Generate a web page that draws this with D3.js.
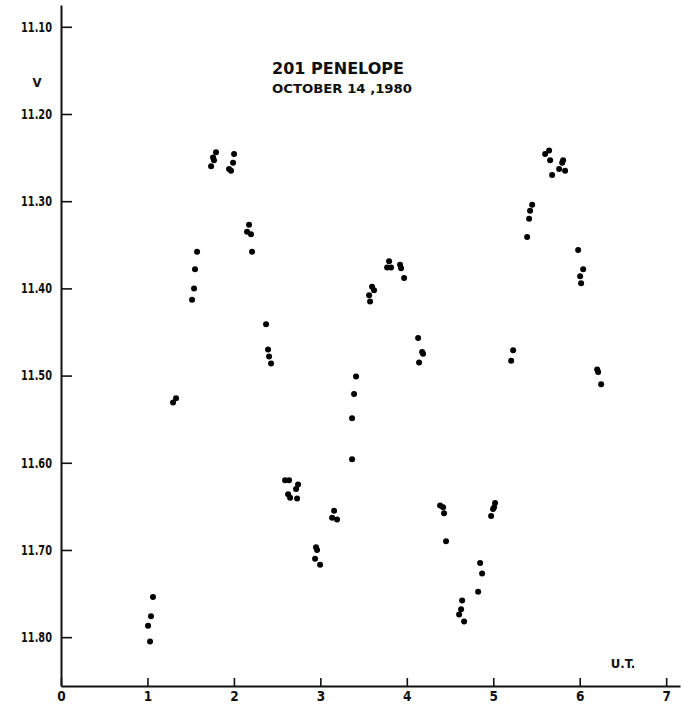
<!DOCTYPE html>
<html>
<head>
<meta charset="utf-8">
<script src="https://cdn.jsdelivr.net/npm/d3@7"></script>
<style>
  html, body { margin: 0; padding: 0; background: #fff; }
  svg { display: block; }
  text { font-family: "DejaVu Sans Condensed", "DejaVu Sans", sans-serif; fill: #111; }
</style>
</head>
<body>
<svg id="chart" width="682" height="713"></svg>
<script>
// Universal time (hours) of each observation
const ut = [
  1.030, 1.007, 1.041, 1.064,
  1.296, 1.331,
  1.516, 1.539, 1.550, 1.574,
  1.736, 1.759, 1.770, 1.793,
  1.944, 1.967, 1.990, 2.002,
  2.175, 2.152, 2.198, 2.210,
  2.372, 2.395, 2.407, 2.430,
  2.592, 2.638, 2.627, 2.650, 2.742, 2.719, 2.731,
  2.950, 2.962, 2.939, 2.997,
  3.159, 3.136, 3.193,
  3.413, 3.390, 3.367, 3.367,
  3.598, 3.621, 3.564, 3.575,
  3.795, 3.772, 3.818, 3.922, 3.934, 3.969,
  4.131, 4.177, 4.188, 4.142,
  4.385, 4.420, 4.431, 4.454,
  4.640, 4.628, 4.605, 4.663,
  4.848, 4.871, 4.825,
  5.021, 5.010, 4.998, 4.975,
  5.230, 5.207,
  5.450, 5.426, 5.415, 5.392,
  5.600, 5.646, 5.658, 5.681, 5.797, 5.808, 5.762, 5.831,
  5.982, 6.040, 6.005, 6.016,
  6.202, 6.213, 6.248
];
// V magnitude of each observation
const vmag = [
  11.805, 11.787, 11.776, 11.754,
  11.531, 11.526,
  11.413, 11.400, 11.378, 11.358,
  11.260, 11.250, 11.253, 11.244,
  11.263, 11.265, 11.256, 11.246,
  11.327, 11.335, 11.338, 11.358,
  11.441, 11.470, 11.478, 11.486,
  11.620, 11.620, 11.636, 11.640, 11.625, 11.630, 11.641,
  11.697, 11.700, 11.710, 11.717,
  11.655, 11.663, 11.665,
  11.501, 11.521, 11.549, 11.596,
  11.398, 11.402, 11.408, 11.415,
  11.369, 11.376, 11.376, 11.373, 11.377, 11.388,
  11.457, 11.473, 11.475, 11.485,
  11.649, 11.651, 11.658, 11.690,
  11.758, 11.768, 11.774, 11.782,
  11.715, 11.727, 11.748,
  11.646, 11.651, 11.653, 11.661,
  11.471, 11.483,
  11.304, 11.311, 11.320, 11.341,
  11.246, 11.242, 11.253, 11.270, 11.256, 11.253, 11.263, 11.265,
  11.356, 11.378, 11.386, 11.394,
  11.493, 11.496, 11.510
];
const yTicks = [11.10, 11.20, 11.30, 11.40, 11.50, 11.60, 11.70, 11.80];
const xTicks = [0, 1, 2, 3, 4, 5, 6, 7];
const titleLines = ["201 PENELOPE", "OCTOBER 14 ,1980"];
const yLabel = "V";
const xLabel = "U.T.";

const svg = d3.select("#chart");

const x = d3.scaleLinear().domain([0, 7.16]).range([61, 680]);
const y = d3.scaleLinear().domain([11.075, 11.856]).range([5, 686]);

// Y axis (ticks pointing inward)
const yAxis = d3.axisLeft(y)
  .tickValues(yTicks)
  .tickFormat(d3.format(".2f"))
  .tickSizeInner(-11)
  .tickSizeOuter(0)
  .tickPadding(9);
const gy = svg.append("g").attr("transform", `translate(${x(0)},0)`).call(yAxis);
gy.select(".domain").attr("stroke", "#111").attr("stroke-width", 2);
gy.selectAll(".tick line").attr("stroke", "#111").attr("stroke-width", 1.6);
gy.selectAll(".tick text").attr("font-size", 13.5).attr("font-weight", "bold")
  .attr("font-family", "\"DejaVu Sans Condensed\", sans-serif").attr("fill", "#111")
  .attr("textLength", 31).attr("lengthAdjust", "spacingAndGlyphs");

// X axis (ticks pointing up)
const xAxis = d3.axisBottom(x)
  .tickValues(xTicks)
  .tickFormat(d3.format("d"))
  .tickSizeInner(-8)
  .tickSizeOuter(0)
  .tickPadding(5);
const gx = svg.append("g").attr("transform", `translate(0,${y(11.856)})`).call(xAxis);
gx.select(".domain").attr("stroke", "#111").attr("stroke-width", 2);
gx.selectAll(".tick line").attr("stroke", "#111").attr("stroke-width", 1.6);
gx.selectAll(".tick text").attr("font-size", 13.5).attr("font-weight", "bold")
  .attr("font-family", "\"DejaVu Sans Condensed\", sans-serif").attr("fill", "#111");

// Axis titles
svg.append("text").attr("x", 37).attr("y", 87).attr("text-anchor", "middle")
  .attr("font-size", 13).attr("font-weight", "bold").text(yLabel);
svg.append("text").attr("x", 623).attr("y", 668).attr("text-anchor", "middle")
  .attr("font-size", 13).attr("font-weight", "bold").text(xLabel);

// Chart title
svg.append("text").attr("x", 272).attr("y", 74)
  .attr("font-size", 15).attr("font-weight", "bold")
  .attr("textLength", 132).attr("lengthAdjust", "spacingAndGlyphs")
  .text(titleLines[0]);
svg.append("text").attr("x", 272).attr("y", 93)
  .attr("font-size", 12).attr("font-weight", "bold")
  .attr("textLength", 140).attr("lengthAdjust", "spacingAndGlyphs")
  .text(titleLines[1]);

// Data points
svg.append("g").selectAll("circle")
  .data(d3.range(ut.length))
  .join("circle")
  .attr("cx", i => x(ut[i]))
  .attr("cy", i => y(vmag[i]))
  .attr("r", 3)
  .attr("fill", "#000");
</script>
</body>
</html>
